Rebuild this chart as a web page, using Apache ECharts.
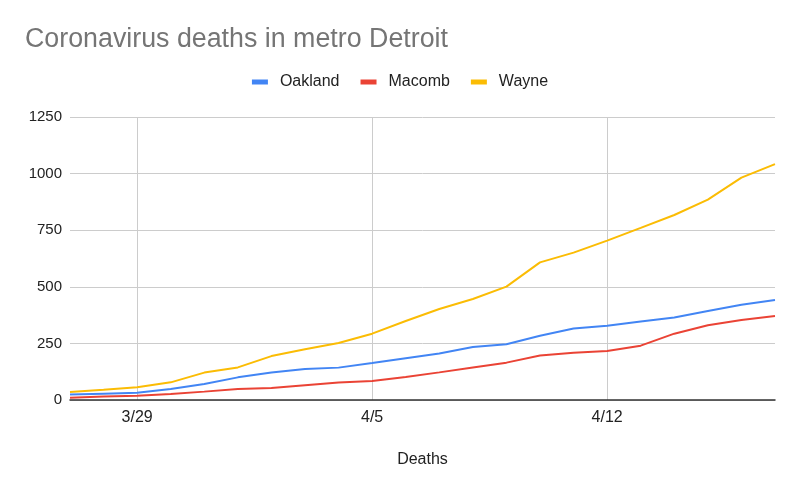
<!DOCTYPE html>
<html>
<head>
<meta charset="utf-8">
<script src="https://cdn.jsdelivr.net/npm/echarts@6/dist/echarts.min.js"></script>
<style>html,body{margin:0;padding:0;background:#fff}#c{width:800px;height:495px}</style>
</head>
<body>
<div id="c"></div>
<script>
const dates = ['3/27','3/28','3/29','3/30','3/31','4/1','4/2','4/3','4/4','4/5','4/6','4/7','4/8','4/9','4/10','4/11','4/12','4/13','4/14','4/15','4/16','4/17'];
const oakland = [24,28,32,49,71,100,121,137,143,163,184,205,234,246,284,316,328,347,364,393,421,442];
const macomb  = [10,15,19,27,37,49,53,65,77,84,102,122,144,165,197,209,216,240,293,330,353,371];
const wayne   = [35,45,56,78,121,144,194,224,252,293,349,402,446,501,608,651,704,760,817,885,982,1042];
const yTicks = [0,250,500,750,1000,1250];

const chart = echarts.init(document.getElementById('c'));
const F = '"Liberation Sans", Arial, sans-serif';
const tickIdx = i => (i % 7) === 2;
function mk(name, data, color) {
  return {name, type:'line', data, symbol:'none', lineStyle:{width:2, color}, itemStyle:{color}};
}
chart.setOption({
  animation:false,
  title:{text:'Coronavirus deaths in metro Detroit', left:25, top:26, padding:0,
    textStyle:{fontFamily:F, fontSize:26.8, fontWeight:'normal', color:'#757575'}},
  legend:{top:74, left:'center', padding:0, icon:'rect', itemWidth:16, itemHeight:5, itemGap:21,
    textStyle:{fontFamily:F, fontSize:16, color:'#222', padding:[0,0,0,7]}},
  grid:{left:70, right:25, top:117, bottom:95},
  xAxis:{type:'category', data:dates, boundaryGap:false,
    name:'Deaths', nameLocation:'middle', nameGap:52,
    nameTextStyle:{fontFamily:F, fontSize:16, color:'#222'},
    axisLine:{lineStyle:{color:'#333', width:1.5}}, axisTick:{show:false},
    axisLabel:{interval:(i)=>tickIdx(i), fontFamily:F, fontSize:16, color:'#222', margin:10},
    splitLine:{show:true, interval:(i)=>tickIdx(i), lineStyle:{color:'#ccc'}}},
  yAxis:{type:'value', min:yTicks[0], max:yTicks[yTicks.length-1], interval:250,
    axisLine:{show:false}, axisTick:{show:false},
    axisLabel:{fontFamily:F, fontSize:15, color:'#222', margin:8, formatter:(v)=>String(v)},
    splitLine:{lineStyle:{color:'#ccc'}}},
  series:[mk('Oakland', oakland, '#4285f4'), mk('Macomb', macomb, '#ea4335'), mk('Wayne', wayne, '#fbbc04')]
});
</script>
</body>
</html>
